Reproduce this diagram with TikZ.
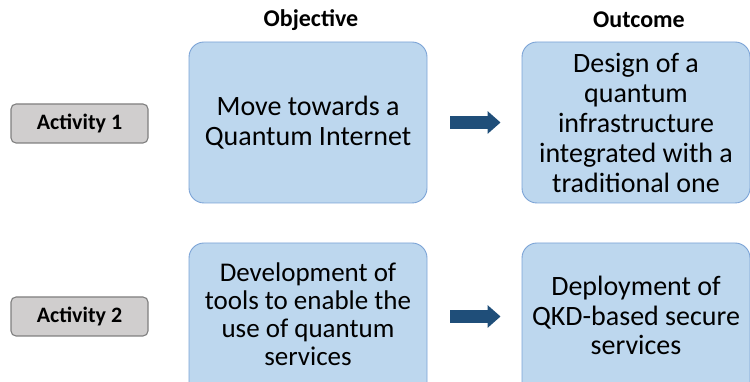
\documentclass[tikz,border=0pt]{standalone}
\usepackage{fontspec}
\setmainfont{Carlito}
\usepackage{tikz}
\usetikzlibrary{arrows.meta}

\definecolor{boxfill}{HTML}{BDD7EE}
\definecolor{boxline}{HTML}{7BA3D6}
\definecolor{actfill}{HTML}{D0CECE}
\definecolor{actline}{HTML}{7F7F7F}
\definecolor{arrowblue}{HTML}{1F4E79}

\begin{document}
\begin{tikzpicture}[x=1pt,y=1pt,
		goalbox/.style={draw=boxline,fill=boxfill,line width=0.9pt,rounded corners=15pt,inner sep=0pt,align=center,font=\fontsize{28}{30}\selectfont},
		actbox/.style={draw=actline,fill=actfill,line width=1.1pt,rounded corners=5pt,minimum width=137pt,minimum height=39pt,font=\bfseries\fontsize{22}{24}\selectfont},
		header/.style={font=\bfseries\fontsize{24}{26}\selectfont},
		bigarrow/.style={arrowblue,line width=13pt,-{Triangle[length=13pt,width=22pt]}}]
			\useasboundingbox (0,0) rectangle (750,382);
			
			% Headers
			\node[header] (objhead) at (311,362) {Objective};
			\node[header] (outhead) at (639,362) {Outcome};
			
			% Activities
			\node[actbox] (act1) at (79.5,258.5) {Activity 1};
			\node[actbox] (act2) at (79.5,65.5) {Activity 2};
			
			% Objectives and outcomes
			\node[goalbox,minimum width=238pt,minimum height=161pt] (obj1) at (308,259.5) {Move towards a\\Quantum Internet};
			\node[goalbox,minimum width=228pt,minimum height=161pt] (out1) at (636,259.5) {Design of a\\quantum\\infrastructure\\integrated with a\\traditional one};
			\node[goalbox,minimum width=238pt,minimum height=180pt] (obj2) at (308,49) {};
			\node[goalbox,minimum width=228pt,minimum height=180pt] (out2) at (636,49) {};
			\node[goalbox,draw=none,fill=none,font=\fontsize{27}{28}\selectfont] (obj2txt) at (308,68) {Development of\\tools to enable the\\use of quantum\\services};
			\node[goalbox,draw=none,fill=none,font=\fontsize{28}{29.5}\selectfont] (out2txt) at (636,66.5) {Deployment of\\QKD-based secure\\services};
			
			% Arrows
			\draw[bigarrow,shorten <=23pt,shorten >=21pt] (obj1.east) -- (out1.west);
			\draw[bigarrow,shorten <=23pt,shorten >=21pt] (obj2.east |- act2) -- (out2.west |- act2);
		\end{tikzpicture}
\end{document}
